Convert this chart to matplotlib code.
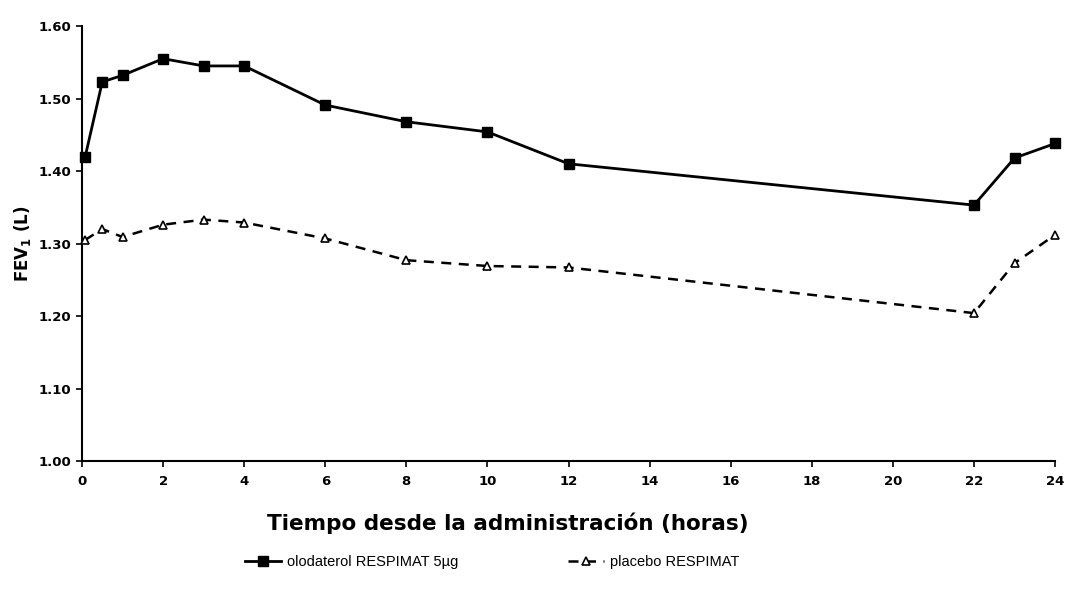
import numpy as np
import matplotlib
matplotlib.use("Agg")
import matplotlib.pyplot as plt

# FEV1 over 24 h, olodaterol vs placebo
hours = [0.08, 0.5, 1, 2, 3, 4, 6, 8, 10, 12, 22, 23, 24]
olodaterol = [1.420, 1.523, 1.532, 1.555, 1.545, 1.545, 1.491, 1.468, 1.454, 1.410, 1.353, 1.418, 1.438]
placebo = [1.305, 1.320, 1.309, 1.326, 1.333, 1.329, 1.307, 1.277, 1.269, 1.267, 1.204, 1.273, 1.312]

x_ticks = list(range(0, 25, 2))
y_ticks = [1.00, 1.10, 1.20, 1.30, 1.40, 1.50, 1.60]

plt.rcParams['font.family'] = ['Liberation Sans', 'DejaVu Sans']

fig = plt.figure(figsize=(10.69, 5.95), dpi=100)
# axes end a little before the right edge so the "24" label stays whole
ax = fig.add_axes([0.0767, 0.2252, 0.9103, 0.731])

ax.plot(hours, olodaterol, color='black', lw=2, marker='s', markersize=7.5,
        label='olodaterol RESPIMAT 5µg', clip_on=False, zorder=3)
ax.plot(hours, placebo, color='black', lw=1.8, ls=(0, (4, 3)), marker='^', markersize=6,
        markerfacecolor='white', markeredgecolor='black', markeredgewidth=1.2,
        label='placebo RESPIMAT', clip_on=False, zorder=3)

ax.set_xlim(0, 24)
ax.set_ylim(1.0, 1.6)
ax.set_xticks(x_ticks)
ax.set_yticks(y_ticks)
ax.set_yticklabels([f'{v:.2f}' for v in y_ticks])
ax.tick_params(axis='both', direction='out', length=4, width=1.2, labelsize=9.5)
ax.tick_params(axis='x', pad=6)
for lab in ax.get_xticklabels() + ax.get_yticklabels():
    lab.set_fontweight('bold')
    lab.set_family(['DejaVu Sans'])

for side in ['top', 'right']:
    ax.spines[side].set_visible(False)
for side in ['left', 'bottom']:
    ax.spines[side].set_linewidth(1.5)

ax.set_ylabel('FEV$_\\mathbf{1}$ (L)', fontsize=12, fontweight='bold', labelpad=4,
              family=['DejaVu Sans'])
fig.text(508 / 1069, 1 - 523 / 595, 'Tiempo desde la administración (horas)',
         ha='center', va='center', fontsize=15.5, fontweight='bold', family=['DejaVu Sans'])

fig.legend(loc='center', bbox_to_anchor=(492 / 1069, 1 - 562 / 595), ncol=2,
           frameon=False, fontsize=10.5, handlelength=2.5, handletextpad=0.4,
           columnspacing=7.5)

fig.savefig('out.png', dpi=100)
